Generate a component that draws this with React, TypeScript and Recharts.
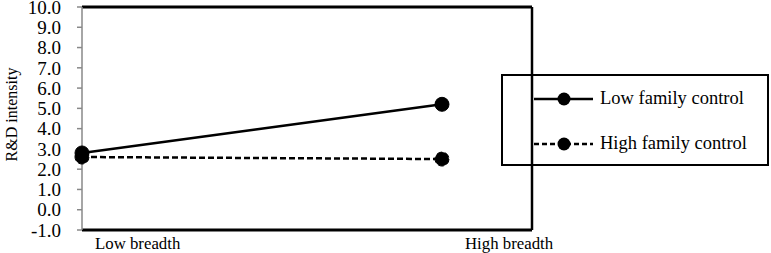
import React from "react";
import { LineChart, Line, XAxis, YAxis, ReferenceLine } from "recharts";

const breadthLabels = ["Low breadth", "High breadth"];
const breadthPos = [0, 1];
const lowFamilyControl = [2.8, 5.2];
const highFamilyControl = [2.6, 2.5];
const yTicks = [-1, 0, 1, 2, 3, 4, 5, 6, 7, 8, 9, 10];

const data = breadthPos.map((x, i) => ({
  x,
  name: breadthLabels[i],
  low: lowFamilyControl[i],
  high: highFamilyControl[i],
}));

const FONT = "Liberation Serif, DejaVu Serif, serif";
const labelShift = [13, 23];

function BreadthTick(props: any) {
  const { x, y, payload, index } = props;
  return (
    <text
      x={x + labelShift[index]}
      y={y + 11}
      textAnchor="start"
      fontFamily={FONT}
      fontSize={16.8}
      fill="#000"
    >
      {breadthLabels[payload.index ?? index]}
    </text>
  );
}

function YLabel(props: any) {
  const { viewBox } = props;
  const cy = viewBox.y + viewBox.height / 2 - 4;
  return (
    <text
      x={17}
      y={cy}
      transform={`rotate(-90, 17, ${cy})`}
      textAnchor="middle"
      fontFamily={FONT}
      fontSize={16}
      fill="#000"
    >
      R&amp;D intensity
    </text>
  );
}

function LegendRow({ label, dashed }: { label: string; dashed?: boolean }) {
  return (
    <div style={{ display: "flex", alignItems: "center", height: 45 }}>
      <svg width={64} height={14} style={{ marginLeft: 29 }}>
        <line x1={2} y1={7} x2={61} y2={7} stroke="#000" strokeWidth={2.5} strokeDasharray={dashed ? "5 3" : undefined} />
        <circle cx={32} cy={7} r={6.5} fill="#000" />
      </svg>
      <span style={{ fontFamily: FONT, fontSize: 18.5, marginLeft: 4, color: "#000" }}>{label}</span>
    </div>
  );
}

export default function App() {
  return (
    <div style={{ position: "absolute", left: 0, top: 0, width: 771, height: 253, background: "#fff" }}>
      <LineChart width={771} height={253} data={data} margin={{ top: 7, right: 239, bottom: 0, left: 0 }}>
        <XAxis
          dataKey="x"
          type="number"
          domain={[0, 1.25]}
          ticks={breadthPos}
          tick={<BreadthTick />}
          tickLine={false}
          axisLine={{ stroke: "#000", strokeWidth: 3 }}
          height={23}
        />
        <YAxis
          type="number"
          domain={[-1, 10]}
          ticks={yTicks}
          interval={0}
          width={82}
          tickFormatter={(v: number) => v.toFixed(1)}
          tick={{ fontFamily: FONT, fontSize: 19, fill: "#000" }}
          tickSize={5}
          tickMargin={16}
          axisLine={{ stroke: "#888", strokeWidth: 1.5 }}
          tickLine={{ stroke: "#888", strokeWidth: 1.5 }}
          label={<YLabel />}
        />
        <ReferenceLine y={10} stroke="#000" strokeWidth={3} />
        <ReferenceLine x={1.25} stroke="#000" strokeWidth={2.5} />
        <Line
          dataKey="high"
          stroke="#000"
          strokeWidth={2.5}
          strokeDasharray="6 3"
          dot={{ r: 7, fill: "#000", stroke: "#000", strokeWidth: 1 }}
          isAnimationActive={false}
        />
        <Line
          dataKey="low"
          stroke="#000"
          strokeWidth={2.5}
          dot={{ r: 7, fill: "#000", stroke: "#000", strokeWidth: 1 }}
          isAnimationActive={false}
        />
      </LineChart>
      <div
        style={{
          position: "absolute",
          left: 501,
          top: 74,
          width: 264,
          height: 88,
          border: "2.5px solid #000",
        }}
      >
        <LegendRow label="Low family control" />
        <LegendRow label="High family control" dashed />
      </div>
    </div>
  );
}
